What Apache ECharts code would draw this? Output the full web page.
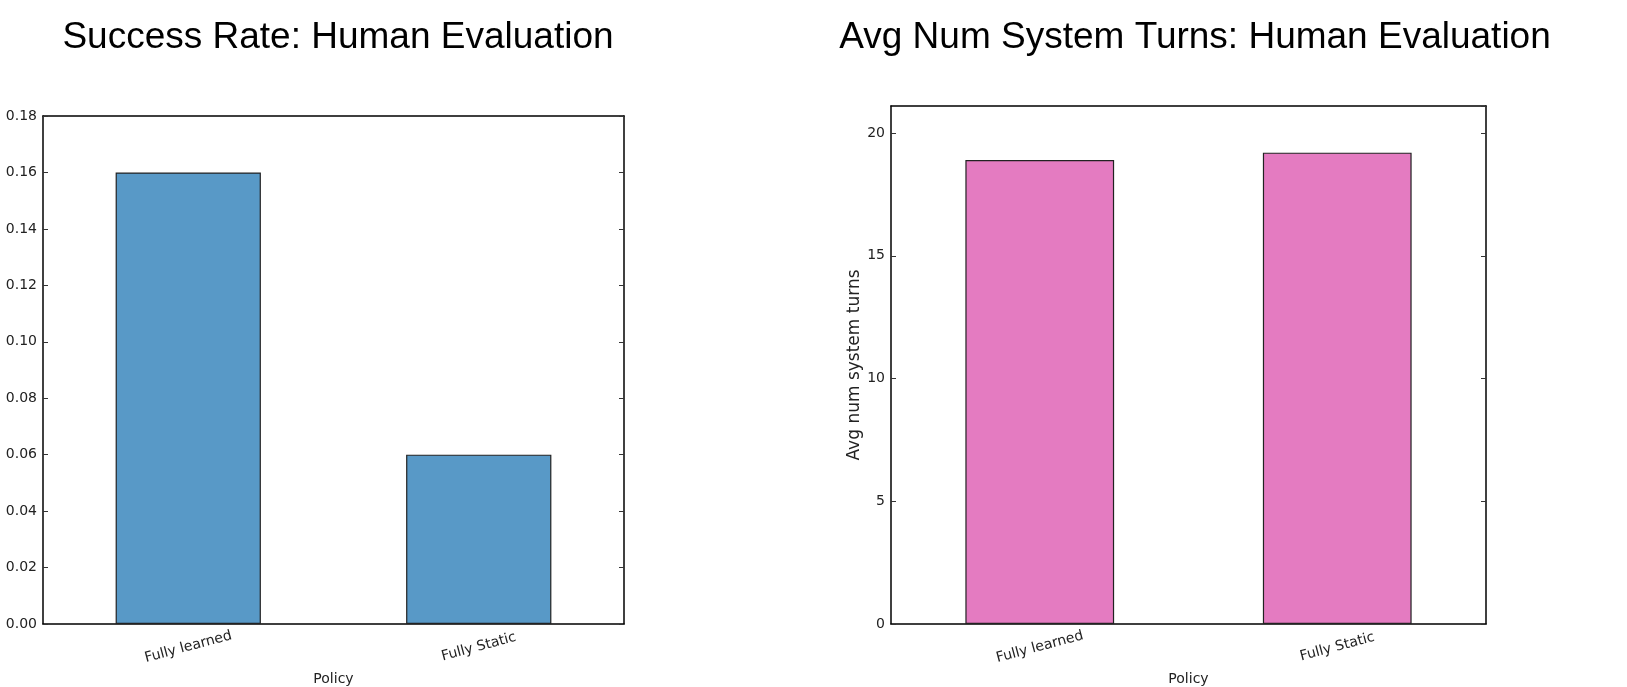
<!DOCTYPE html>
<html>
<head>
<meta charset="utf-8">
<script src="https://cdn.jsdelivr.net/npm/echarts@6/dist/echarts.min.js"></script>
<style>
html,body{margin:0;padding:0;background:#fff;}
#chart{width:1627px;height:687px;}
</style>
</head>
<body>
<div id="chart"></div>
<script>
const categories = ['Fully learned', 'Fully Static'];
const successRate = [0.16, 0.06];
const avgTurns = [18.9, 19.2];
const titles = ['Success Rate: Human Evaluation', 'Avg Num System Turns: Human Evaluation'];
const xAxisName = 'Policy';
const yAxisName2 = 'Avg num system turns';

const tickFont = 'DejaVu Sans';
const axisColor = '#000';

function xAxes(gridIndex) {
  return [
    {
      type: 'category', gridIndex: gridIndex, data: categories, position: 'bottom',
      boundaryGap: true,
      axisLine: { onZero: false, lineStyle: { color: axisColor, width: 1.5 } },
      axisTick: { alignWithLabel: true, inside: true, length: 5, lineStyle: { color: '#333' } },
      axisLabel: { rotate: 15, align: 'center', verticalAlign: 'middle', margin: 23, fontFamily: tickFont, fontSize: 14, color: '#222' },
      name: xAxisName, nameLocation: 'middle', nameGap: 48,
      nameTextStyle: { fontFamily: tickFont, fontSize: 14, color: '#222' }
    },
    {
      type: 'category', gridIndex: gridIndex, data: categories, position: 'top',
      boundaryGap: true,
      axisLine: { onZero: false, lineStyle: { color: axisColor, width: 1.5 } },
      axisTick: { alignWithLabel: true, inside: true, length: 5, lineStyle: { color: '#333' } },
      axisLabel: { show: false }
    }
  ];
}

function yAxes(gridIndex, min, max, interval, fmt, showMax, name) {
  const base = {
    type: 'value', gridIndex: gridIndex, min: min, max: max, interval: interval,
    splitLine: { show: false },
    axisLine: { show: true, onZero: false, lineStyle: { color: axisColor, width: 1.5 } },
    axisTick: { show: true, inside: true, length: 5, lineStyle: { color: '#333' } }
  };
  const left = Object.assign({}, base, {
    position: 'left',
    axisLabel: { formatter: fmt, fontFamily: tickFont, fontSize: 14, color: '#222', margin: 6, showMaxLabel: showMax }
  });
  if (name) {
    left.name = name;
    left.nameLocation = 'middle';
    left.nameGap = 25;
    left.nameTextStyle = { fontFamily: tickFont, fontSize: 17, color: '#222' };
  }
  const right = Object.assign({}, base, { position: 'right', axisLabel: { show: false } });
  return [left, right];
}

const chart = echarts.init(document.getElementById('chart'), null, { renderer: 'canvas' });

const titleStyle = { fontFamily: 'Liberation Sans', fontSize: 37, fontWeight: 'normal', fill: '#000', align: 'center', verticalAlign: 'middle' };

const option = {
  backgroundColor: '#fff',
  animation: false,
  graphic: [
    { type: 'text', x: 338, y: 38, style: Object.assign({ text: titles[0] }, titleStyle) },
    { type: 'text', x: 1195, y: 38, style: Object.assign({ text: titles[1] }, titleStyle) }
  ],
  grid: [
    { left: 43, top: 116, width: 581, height: 508, containLabel: false, outerBoundsMode: 'none' },
    { left: 891, top: 106, width: 595, height: 518, containLabel: false, outerBoundsMode: 'none' }
  ],
  xAxis: xAxes(0).concat(xAxes(1)),
  yAxis: yAxes(0, 0, 0.18, 0.02, v => v.toFixed(2), true, null)
    .concat(yAxes(1, 0, 21.1, 5, v => String(Math.round(v)), false, yAxisName2)),
  series: [
    {
      type: 'bar', xAxisIndex: 0, yAxisIndex: 0, data: successRate,
      barCategoryGap: '50%',
      itemStyle: { color: '#5899C7', borderColor: '#222', borderWidth: 1.2 }
    },
    {
      type: 'bar', xAxisIndex: 2, yAxisIndex: 2, data: avgTurns,
      barCategoryGap: '50%',
      itemStyle: { color: '#E47BC1', borderColor: '#222', borderWidth: 1.2 }
    }
  ]
};
chart.setOption(option);
</script>
</body>
</html>
